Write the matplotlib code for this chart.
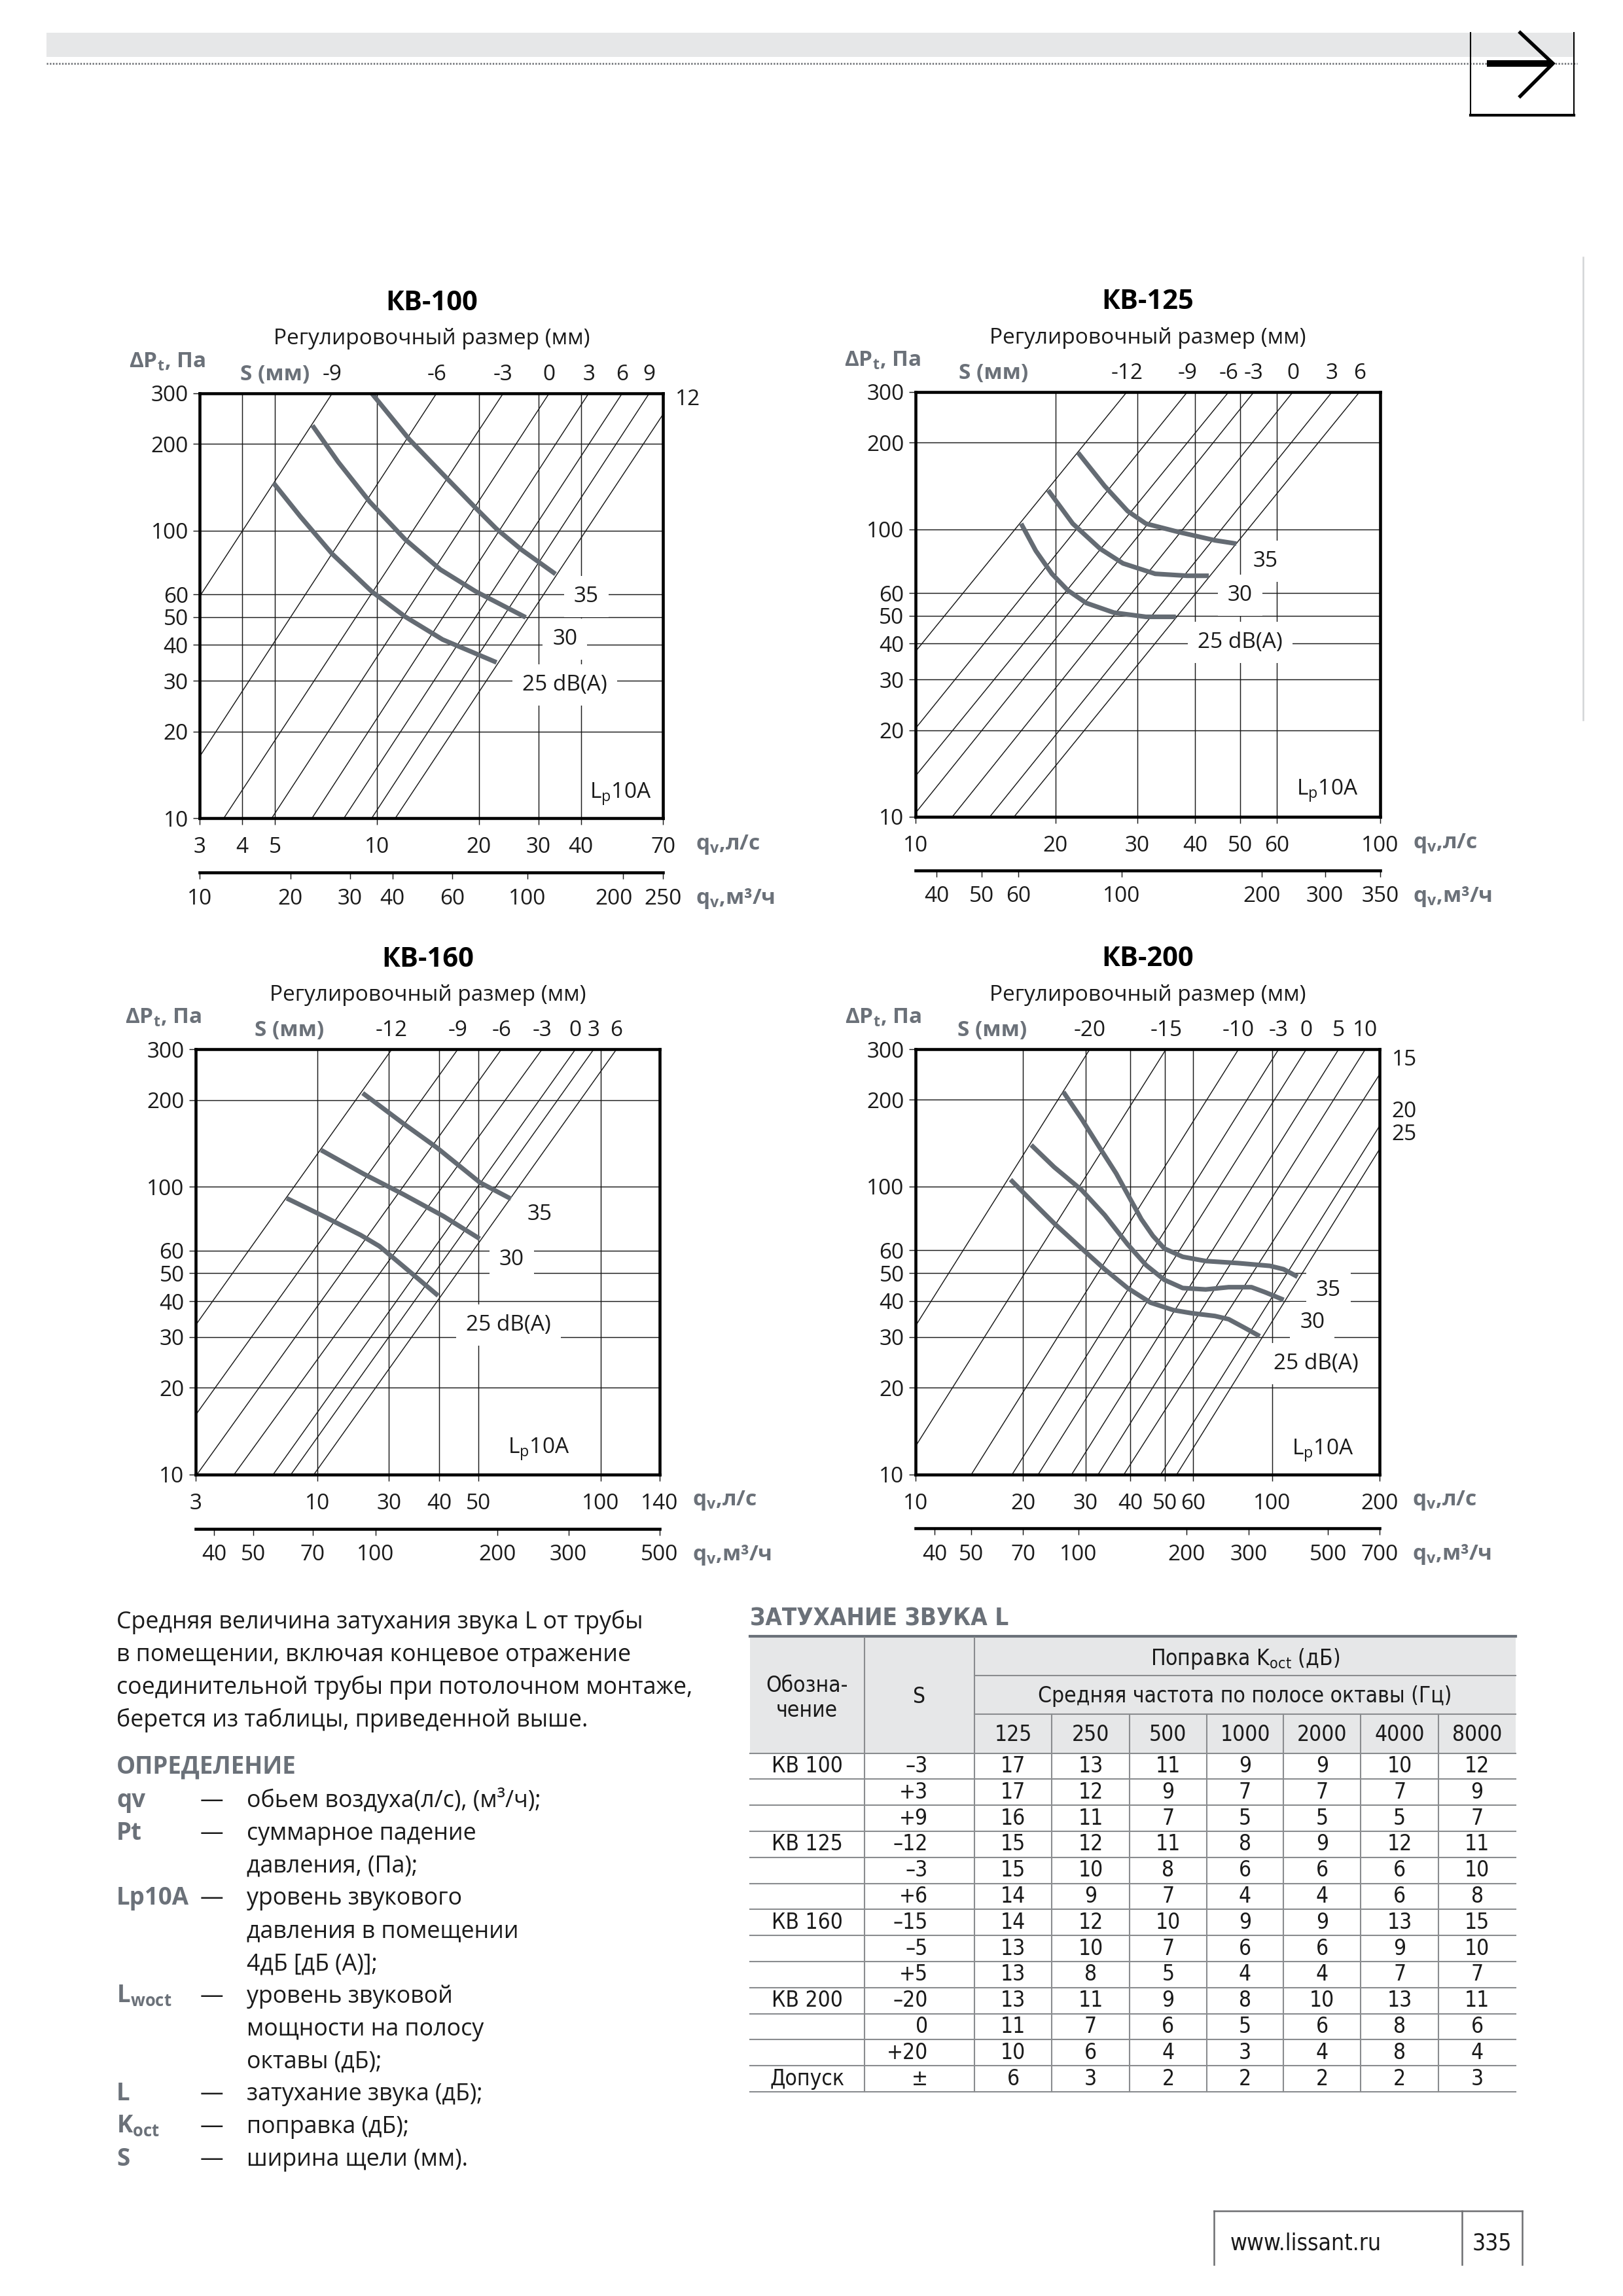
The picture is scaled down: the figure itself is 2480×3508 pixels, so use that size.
import numpy as np
import matplotlib
matplotlib.use('Agg')
import matplotlib.pyplot as plt
from matplotlib.patches import Rectangle
from matplotlib.ticker import FixedLocator, FixedFormatter, NullLocator, NullFormatter

plt.rcParams['font.family'] = ['Open Sans', 'DejaVu Sans']
plt.rcParams['mathtext.default'] = 'regular'

W, H = 2480, 3508
DPI = 300
GRAY = '#6b7179'
CURVE = '#646b73'
INK = '#1a1a1a'
COND = ['DejaVu Sans Condensed', 'DejaVu Sans']

# ---------------- data ----------------
y_ticks = [10, 20, 30, 40, 50, 60, 100, 200, 300]
y_grid = [20, 30, 40, 50, 60, 100, 200]

# KB-100
kb100_x_ticks = [3, 4, 5, 10, 20, 30, 40, 70]
kb100_x_labels = ['3', '4', '5', '10', '20', '30', '40', '70']
kb100_x_grid = [4, 5, 10, 20, 30, 40]
kb100_m3h = [10, 20, 30, 40, 60, 100, 200, 250]
kb100_m3h_at = [10.8, 20, 30, 40, 60, 100, 192, 252]   # printed tick positions (m3/h)
kb100_s_labels = ['-9', '-6', '-3', '0', '3', '6', '9', '12']
kb100_s_q10 = [1.12, 2.28, 3.53, 4.89, 6.43, 7.99, 9.65, 11.33]
kb100_s_q300 = [7.38, 15.0, 23.6, 32.25, 42.2, 53.0, 63.7, 76.9]
kb100_q35 = [9.65, 12.45, 16.06, 19.58, 22.55, 26.75, 33.67]
kb100_p35 = [300, 207.7, 152.2, 119.7, 101.3, 85.7, 70.6]
kb100_q30 = [6.45, 7.69, 9.52, 12.11, 15.39, 19.58, 27.5]
kb100_p30 = [231.9, 172.9, 125.9, 93.2, 73.2, 61.4, 49.9]
kb100_q25 = [4.95, 5.94, 7.38, 9.65, 12.11, 15.62, 22.55]
kb100_p25 = [146.3, 111.9, 82.9, 61.4, 50.2, 41.8, 34.8]

# KB-125
kb125_x_ticks = [10, 20, 30, 40, 50, 60, 100]
kb125_x_labels = ['10', '20', '30', '40', '50', '60', '100']
kb125_x_grid = [20, 30, 40, 50, 60]
kb125_m3h = [40, 50, 60, 100, 200, 300, 350]
kb125_m3h_at = [40, 50, 60, 100, 200, 274, 360]
kb125_s_labels = ['-12', '-9', '-6', '-3', '0', '3', '6']
kb125_s_q10 = [5.13, 7.02, 8.48, 9.85, 12.0, 14.45, 16.3]
kb125_s_q300 = [28.5, 38.46, 47.2, 53.5, 64.9, 78.8, 90.3]
kb125_q35 = [22.38, 25.54, 28.61, 31.33, 36.75, 44.1, 49.06]
kb125_p35 = [184.7, 141.3, 115.7, 104.6, 97.9, 91.5, 89.1]
kb125_q30 = [19.3, 21.8, 24.96, 27.96, 32.8, 38.46, 42.8]
kb125_p30 = [136.7, 104.6, 85.6, 76.1, 70.0, 68.9, 68.9]
kb125_q25 = [16.88, 18.15, 19.66, 21.28, 23.31, 26.73, 31.33, 36.34]
kb125_p25 = [104.6, 84.2, 70.0, 61.3, 55.4, 51.3, 49.6, 49.6]

# KB-160 (tick labels as printed in the original)
kb160_x_ticks = [10, 20, 30, 40, 50, 100, 140]
kb160_x_labels = ['3', '10', '30', '40', '50', '100', '140']
kb160_x_grid = [20, 30, 40, 50, 100]
kb160_m3h = [40, 50, 70, 100, 200, 300, 500]
kb160_m3h_at = [40, 50, 70, 100, 200, 300, 504]
kb160_s_labels = ['-12', '-9', '-6', '-3', '0', '3', '6']
kb160_s_q10 = [5.46, 7.84, 10.07, 12.44, 15.54, 17.19, 19.59]
kb160_s_q300 = [30.5, 44.4, 56.9, 71.7, 86.7, 96.2, 109.5]
kb160_q35 = [25.85, 32.6, 39.4, 50.4, 60.1]
kb160_p35 = [211.4, 165.6, 136.7, 103.3, 90.7]
kb160_q30 = [20.4, 25.9, 32.6, 40.9, 50.3]
kb160_p30 = [134.0, 111.0, 94.0, 79.0, 65.9]
kb160_q25 = [16.78, 20.4, 25.54, 28.42, 32.77, 39.7]
kb160_p25 = [91.1, 79.7, 67.9, 62.1, 52.5, 41.8]

# KB-200
kb200_x_ticks = [10, 20, 30, 40, 50, 60, 100, 200]
kb200_x_labels = ['10', '20', '30', '40', '50', '60', '100', '200']
kb200_x_grid = [20, 30, 40, 50, 60, 100]
kb200_m3h = [40, 50, 70, 100, 200, 300, 500, 700]
kb200_m3h_at = [40.7, 51.6, 72, 103, 207, 309, 516, 720]
kb200_s_labels = ['-20', '-15', '-10', '-3', '0', '5', '10', '15', '20', '25']
kb200_s_q10 = [5.46, 8.91, 14.33, 18.65, 22.07, 27.4, 32.5, 38.4, 48.7, 54.0]
kb200_s_q300 = [30.8, 50.4, 80.5, 104.3, 124.7, 153.7, 182.6, 222.1, 273.2, 299.4]
kb200_q35 = [25.96, 29.22, 32.9, 36.5, 39.9, 42.96, 46.28, 49.84, 56.1, 65.1, 80.1, 98.6, 107.7, 117.8]
kb200_p35 = [213.1, 171.5, 135.8, 111.1, 90.9, 77.0, 67.4, 60.9, 57.0, 55.1, 54.2, 53.0, 51.6, 48.6]
kb200_q30 = [21.09, 24.46, 29.22, 33.9, 39.3, 44.3, 49.85, 56.1, 65.1, 75.5, 87.5, 95.7, 107.7]
kb200_p30 = [139.4, 116.8, 97.2, 79.6, 63.0, 53.3, 47.4, 44.4, 43.9, 44.7, 44.7, 42.9, 40.4]
kb200_q25 = [18.45, 21.09, 24.46, 29.22, 33.9, 39.3, 45.6, 52.9, 59.5, 69.1, 75.5, 83.7, 92.3]
kb200_p25 = [105.7, 89.4, 74.5, 60.9, 51.6, 44.4, 39.5, 37.2, 36.3, 35.5, 34.6, 32.3, 30.2]

# Table
tbl_freqs = ['125', '250', '500', '1000', '2000', '4000', '8000']
tbl_names = ['КВ 100', '', '', 'КВ 125', '', '', 'КВ 160', '', '', 'КВ 200', '', '', 'Допуск']
tbl_s = ['–3', '+3', '+9', '–12', '–3', '+6', '–15', '–5', '+5', '–20', '0', '+20', '±']
tbl_values = [
    [17, 13, 11, 9, 9, 10, 12],
    [17, 12, 9, 7, 7, 7, 9],
    [16, 11, 7, 5, 5, 5, 7],
    [15, 12, 11, 8, 9, 12, 11],
    [15, 10, 8, 6, 6, 6, 10],
    [14, 9, 7, 4, 4, 6, 8],
    [14, 12, 10, 9, 9, 13, 15],
    [13, 10, 7, 6, 6, 9, 10],
    [13, 8, 5, 4, 4, 7, 7],
    [13, 11, 9, 8, 10, 13, 11],
    [11, 7, 6, 5, 6, 8, 6],
    [10, 6, 4, 3, 4, 8, 4],
    [6, 3, 2, 2, 2, 2, 3],
]

paragraph = [
    'Средняя величина затухания звука L от трубы',
    'в помещении, включая концевое отражение',
    'соединительной трубы при потолочном монтаже,',
    'берется из таблицы, приведенной выше.',
]
def_terms = ['qv', 'Pt', '', 'Lp10A', '', '', 'L$_{woct}$', '', '', 'L', 'K$_{oct}$', 'S']
def_texts = ['обьем воздуха(л/с), (м³/ч);', 'суммарное падение', 'давления, (Па);',
             'уровень звукового', 'давления в помещении', '4дБ [дБ (А)];',
             'уровень звуковой', 'мощности на полосу', 'октавы (дБ);',
             'затухание звука (дБ);', 'поправка (дБ);', 'ширина щели (мм).']

# ---------------- figure ----------------
fig = plt.figure(figsize=(W / DPI, H / DPI), dpi=DPI)
page = fig.add_axes([0, 0, 1, 1])
page.set_xlim(0, W)
page.set_ylim(H, 0)
page.axis('off')
PT = 72.0 / DPI  # points per pixel


def px_rect(L, T, R, B):
    return [L / W, 1 - B / H, (R - L) / W, (B - T) / H]


def draw_chart(title, rect, xlim, xticks, xlabels, xgrid, m3h, m3h_at, line_y,
               s_labels, s_q10, s_q300, curves, labels, s_fx, m3h_dx=None):
    L, T, R, B = rect
    ax = fig.add_axes(px_rect(L, T, R, B))
    ax.set_facecolor('none')
    ax.set_xscale('log')
    ax.set_yscale('log')
    ax.set_xlim(*xlim)
    ax.set_ylim(10, 300)
    for g in xgrid:
        ax.axvline(g, color=INK, lw=0.35, zorder=1)
    for g in y_grid:
        ax.axhline(g, color=INK, lw=0.35, zorder=1)
    xmax = xlim[1]
    for lab, q10, q300 in zip(s_labels, s_q10, s_q300):
        ax.plot([q10, q300], [10, 300], color=INK, lw=0.35, zorder=1.5)
        if q300 <= xmax * 1.001:
            ax.annotate(lab, xy=(q300, 1), xycoords=ax.get_xaxis_transform(),
                        xytext=(0, 6.9), textcoords='offset points',
                        ha='center', va='center', fontsize=8, color=INK)
        else:
            n = np.log(30) / np.log(q300 / q10)
            p_r = 10 * (xmax / q10) ** n
            ax.annotate(lab, xy=(1, p_r), xycoords=ax.get_yaxis_transform(),
                        xytext=(9.1, 5.3), textcoords='offset points',
                        ha='center', va='center', fontsize=8, color=INK)
    for q, p in curves:
        ax.plot(q, p, color=CURVE, lw=1.7, zorder=3,
                solid_capstyle='butt', solid_joinstyle='round')
    for txt, fx, fy in labels[:3]:
        ax.text(fx, fy, txt, transform=ax.transAxes, ha='center', va='center',
                fontsize=8, color=INK, zorder=4,
                bbox=dict(boxstyle='square,pad=0.45', fc='white', ec='none'))
    txt, fx, fy = labels[3]
    ax.text(fx, fy, txt, transform=ax.transAxes, ha='center', va='center',
            fontsize=8, color=INK, zorder=4)

    ax.xaxis.set_major_locator(FixedLocator(xticks))
    ax.xaxis.set_major_formatter(FixedFormatter(xlabels))
    ax.xaxis.set_minor_locator(NullLocator())
    ax.yaxis.set_major_locator(FixedLocator(y_ticks))
    ax.yaxis.set_major_formatter(FixedFormatter([str(v) for v in y_ticks]))
    ax.yaxis.set_minor_locator(NullLocator())
    ax.tick_params(which='major', direction='out', length=2.4, width=0.35,
                   labelsize=8, colors=INK)
    ax.tick_params(axis='x', pad=4.3)
    ax.tick_params(axis='y', pad=1.8)
    for s in ax.spines.values():
        s.set_linewidth(1.1)
        s.set_zorder(5)

    # headings
    ax.annotate(title, xy=(0.5, 1), xycoords='axes fraction', xytext=(0, 32.9),
                textcoords='offset points', ha='center', va='center',
                fontsize=10, fontweight='bold', color='black')
    ax.annotate('Регулировочный размер (мм)', xy=(0.5, 1), xycoords='axes fraction',
                xytext=(0, 19.9), textcoords='offset points', ha='center', va='center',
                fontsize=8, color=INK)
    ax.annotate('S (мм)', xy=(s_fx, 1), xycoords='axes fraction', xytext=(0, 6.9),
                textcoords='offset points', ha='center', va='center',
                fontsize=8, fontweight='bold', color=GRAY)
    ax.annotate('ΔP$_{t}$, Па', xy=(0, 1), xycoords='axes fraction', xytext=(-12, 11.5),
                textcoords='offset points', ha='center', va='center',
                fontsize=8, fontweight='bold', color=GRAY)

    # second flow axis (m3/h)
    ax2 = fig.add_axes([L / W, 1 - line_y / H, (R - L) / W, 0.5 / H])
    ax2.patch.set_visible(False)
    ax2.set_xscale('log')
    lo, hi = xlim[0] * 3.6, xlim[1] * 3.6
    ax2.set_xlim(lo, hi)
    ax2.set_ylim(0, 1)
    ax2.set_yticks([])
    for side in ['top', 'left', 'right']:
        ax2.spines[side].set_visible(False)
    ax2.spines['bottom'].set_linewidth(1.1)
    pos = list(np.clip(m3h_at, lo, hi))
    ax2.xaxis.set_major_locator(FixedLocator(pos))
    ax2.xaxis.set_major_formatter(NullFormatter())
    ax2.xaxis.set_minor_locator(NullLocator())
    ax2.tick_params(which='major', direction='out', length=2.4, width=0.35, colors=INK)
    m3h_dx = m3h_dx or {}
    for k, (v, x) in enumerate(zip(m3h, pos)):
        ax2.annotate(str(v), xy=(x, 0), xycoords=ax2.get_xaxis_transform(),
                     xytext=(m3h_dx.get(k, 0) * PT, -40 * PT), textcoords='offset points',
                     ha='center', va='center', fontsize=8, color=INK,
                     annotation_clip=False)

    page.text(R + 50, B + 40, 'q$_{v}$,л/с', ha='left', va='center', fontsize=8,
              fontweight='bold', color=GRAY)
    page.text(R + 50, line_y + 40, 'q$_{v}$,м³/ч', ha='left', va='center', fontsize=8,
              fontweight='bold', color=GRAY)
    return ax


draw_chart('КВ-100', (305.4, 600.9, 1013.3, 1250.1), (3, 70), kb100_x_ticks, kb100_x_labels,
           kb100_x_grid, kb100_m3h, kb100_m3h_at, 1333,
           kb100_s_labels, kb100_s_q10, kb100_s_q300,
           [(kb100_q35, kb100_p35), (kb100_q30, kb100_p30), (kb100_q25, kb100_p25)],
           [('35', 0.834, 0.521), ('30', 0.788, 0.422), ('25 dB(A)', 0.788, 0.313),
            ('L$_{p}$10A', 0.908, 0.057)], 0.162, m3h_dx={6: -14})

draw_chart('КВ-125', (1398.9, 599, 2108.8, 1248), (10, 100), kb125_x_ticks, kb125_x_labels,
           kb125_x_grid, kb125_m3h, kb125_m3h_at, 1330,
           kb125_s_labels, kb125_s_q10, kb125_s_q300,
           [(kb125_q35, kb125_p35), (kb125_q30, kb125_p30), (kb125_q25, kb125_p25)],
           [('35', 0.753, 0.602), ('30', 0.699, 0.522), ('25 dB(A)', 0.699, 0.411),
            ('L$_{p}$10A', 0.886, 0.061)], 0.168)

draw_chart('КВ-160', (299.2, 1603.3, 1007.9, 2252.7), (10, 140), kb160_x_ticks, kb160_x_labels,
           kb160_x_grid, kb160_m3h, kb160_m3h_at, 2336,
           kb160_s_labels, kb160_s_q10, kb160_s_q300,
           [(kb160_q35, kb160_p35), (kb160_q30, kb160_p30), (kb160_q25, kb160_p25)],
           [('35', 0.742, 0.611), ('30', 0.681, 0.505), ('25 dB(A)', 0.674, 0.352),
            ('L$_{p}$10A', 0.739, 0.060)], 0.2015)

draw_chart('КВ-200', (1399.2, 1603, 2107.9, 2252.7), (10, 200), kb200_x_ticks, kb200_x_labels,
           kb200_x_grid, kb200_m3h, kb200_m3h_at, 2335,
           kb200_s_labels, kb200_s_q10, kb200_s_q300,
           [(kb200_q35, kb200_p35), (kb200_q30, kb200_p30), (kb200_q25, kb200_p25)],
           [('35', 0.8895, 0.433), ('30', 0.855, 0.358), ('25 dB(A)', 0.863, 0.260),
            ('L$_{p}$10A', 0.877, 0.057)], 0.165)

# ---------------- page header ----------------
page.add_patch(Rectangle((71, 50), 2405 - 71, 37, fc='#e6e7e8', ec='none', zorder=0))
page.plot([71, 2410], [97, 97], color='#7a7c80', lw=0.7, linestyle=(0, (0.8, 0.8)))
page.plot([2247, 2247], [50, 176], color='black', lw=0.5)
page.plot([2405, 2405], [50, 176], color='black', lw=0.5)
page.plot([2247, 2405], [176, 176], color='black', lw=1.0)
page.plot([2323, 2373, 2323], [50, 97, 147], color='black', lw=1.3, solid_joinstyle='miter')
page.plot([2272, 2370], [97, 97], color='black', lw=2.4, solid_capstyle='butt')
page.plot([2419, 2419], [393, 1100], color='#d3d4d6', lw=0.6)

# ---------------- paragraph & definitions ----------------
for i, line in enumerate(paragraph):
    page.text(178, 2488 + 50 * i, line, ha='left', va='baseline', fontsize=8.6, color=INK)
page.text(178, 2710, 'ОПРЕДЕЛЕНИЕ', ha='left', va='baseline', fontsize=8.8,
          fontweight='bold', color=GRAY)
for i, (term, txt) in enumerate(zip(def_terms, def_texts)):
    yb = 2761 + 49.8 * i
    if term:
        page.text(178, yb, term, ha='left', va='baseline', fontsize=8.8,
                  fontweight='bold', color=GRAY)
        page.text(306, yb, '—', ha='left', va='baseline', fontsize=8.6, color=INK)
    page.text(377, yb, txt, ha='left', va='baseline', fontsize=8.6, color=INK)

# ---------------- table ----------------
col_x = [1145.7, 1320.6, 1489.2, 1606.9, 1726, 1843.7, 1961.4, 2079, 2198.2, 2316]
t_top, t_r1, t_r2, t_hb, t_bot = 2502, 2560, 2618.8, 2678.5, 3196
LINEC = '#8a8c8f'
page.text(1145.7, 2473, 'ЗАТУХАНИЕ ЗВУКА L', ha='left', va='center', fontsize=8.8,
          fontweight='bold', color=GRAY, family=COND, fontstretch='condensed')
page.add_patch(Rectangle((col_x[0], t_top), col_x[-1] - col_x[0], t_hb - t_top,
                         fc='#e6e7e8', ec='none', zorder=0))
page.plot([col_x[0], col_x[-1]], [2500, 2500], color=GRAY, lw=1.0)
page.plot([col_x[2], col_x[-1]], [t_r1, t_r1], color=LINEC, lw=0.5)
page.plot([col_x[2], col_x[-1]], [t_r2, t_r2], color=LINEC, lw=0.5)
page.plot([col_x[1], col_x[1]], [t_top, t_bot], color=LINEC, lw=0.5)
page.plot([col_x[2], col_x[2]], [t_top, t_bot], color=LINEC, lw=0.5)
for x in col_x[3:-1]:
    page.plot([x, x], [t_r2, t_bot], color=LINEC, lw=0.5)
nrows = len(tbl_values)
row_h = (t_bot - t_hb) / nrows
for k in range(nrows + 1):
    yy = t_hb + k * row_h
    page.plot([col_x[0], col_x[-1]], [yy, yy], color=LINEC, lw=0.5)

tkw = dict(fontsize=8, color=INK, family=COND, fontstretch='condensed')
mid_freq = (col_x[2] + col_x[-1]) / 2
page.text(mid_freq, 2534.6, 'Поправка K$_{oct}$ (дБ)', ha='center', va='center', **tkw)
page.text(mid_freq, 2592, 'Средняя частота по полосе октавы (Гц)', ha='center', va='center', **tkw)
page.text((col_x[0] + col_x[1]) / 2, 2575.4, 'Обозна-', ha='center', va='center', **tkw)
page.text((col_x[0] + col_x[1]) / 2, 2613.7, 'чение', ha='center', va='center', **tkw)
page.text((col_x[1] + col_x[2]) / 2, 2592, 'S', ha='center', va='center', **tkw)
for j, f in enumerate(tbl_freqs):
    page.text((col_x[2 + j] + col_x[3 + j]) / 2, 2650.4, f, ha='center', va='center', **tkw)
for i in range(nrows):
    yc = t_hb + (i + 0.5) * row_h
    if tbl_names[i]:
        page.text((col_x[0] + col_x[1]) / 2, yc, tbl_names[i], ha='center', va='center', **tkw)
    page.text(1418, yc, tbl_s[i], ha='right', va='center', **tkw)
    for j, v in enumerate(tbl_values[i]):
        page.text((col_x[2 + j] + col_x[3 + j]) / 2, yc, str(v), ha='center', va='center', **tkw)

# ---------------- footer ----------------
FOOT = '#6d6e71'
page.plot([1855, 2326], [3378, 3378], color=FOOT, lw=0.6)
for x in (1855, 2234, 2326):
    page.plot([x, x], [3378, 3460], color=FOOT, lw=0.6)
page.text(1880, 3428, 'www.lissant.ru', ha='left', va='center', fontsize=8.5, color=INK,
          family=COND, fontstretch='condensed')
page.text(2280, 3428, '335', ha='center', va='center', fontsize=8.5, color=INK,
          family=COND, fontstretch='condensed')

fig.savefig('out.png', dpi=DPI)
